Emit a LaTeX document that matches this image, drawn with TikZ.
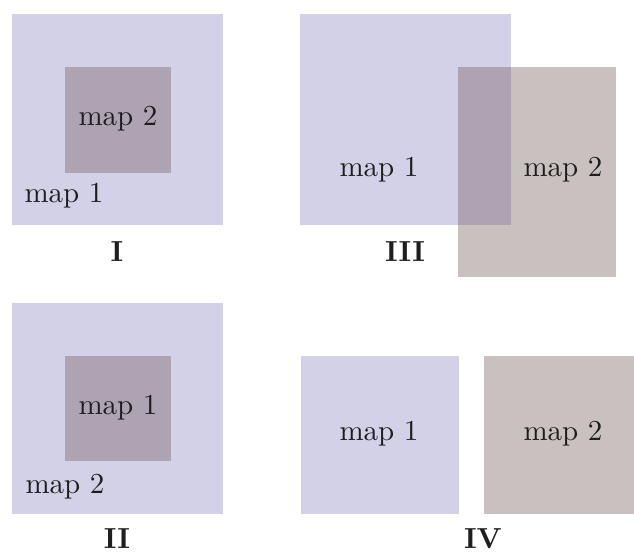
\documentclass[tikz,border=0pt]{standalone}
\definecolor{mapblue}{HTML}{D3D1E8}
\definecolor{mapbrown}{HTML}{C9C1BF}
\definecolor{mapover}{HTML}{ADA3B3}
\definecolor{txt}{HTML}{1E1E1E}
\begin{document}
\begin{tikzpicture}[x=0.345pt,y=-0.345pt,
  bluebox/.style={fill=mapblue,draw=none},
  brownbox/.style={fill=mapbrown,draw=none},
  overbox/.style={fill=mapover,draw=none},
  lab/.style={text=txt,font=\fontsize{10}{12}\selectfont,inner sep=0pt},
  panel/.style={text=txt,font=\fontsize{10}{12}\selectfont\bfseries,inner sep=0pt}]
\useasboundingbox (0,0) rectangle (634,552);
% Panel I
\fill[bluebox] (12,14) rectangle (223,225);
\fill[overbox] (65,67) rectangle (171,173);
\node[lab] (i2) at (118,119) {map 2};
\node[lab] (i1) at (64,196) {map 1};
\node[panel] (I) at (117,252) {I};
% Panel III
\fill[bluebox] (300,14) rectangle (511,225);
\fill[brownbox] (458,67) rectangle (616,277);
\fill[overbox] (458,67) rectangle (511,225);
\node[lab] (iii1) at (379,170) {map 1};
\node[lab] (iii2) at (563,170) {map 2};
\node[panel] (III) at (405,252) {III};
% Panel II
\fill[bluebox] (12,303) rectangle (223,514);
\fill[overbox] (65,356) rectangle (171,461);
\node[lab] (ii1) at (118,408) {map 1};
\node[lab] (ii2) at (65,487) {map 2};
\node[panel] (II) at (117,539) {II};
% Panel IV
\fill[bluebox] (301,356) rectangle (459,514);
\fill[brownbox] (484,356) rectangle (634,514);
\node[lab] (iv1) at (379,434) {map 1};
\node[lab] (iv2) at (563,434) {map 2};
\node[panel] (IV) at (483,539) {IV};
\end{tikzpicture}
\end{document}
